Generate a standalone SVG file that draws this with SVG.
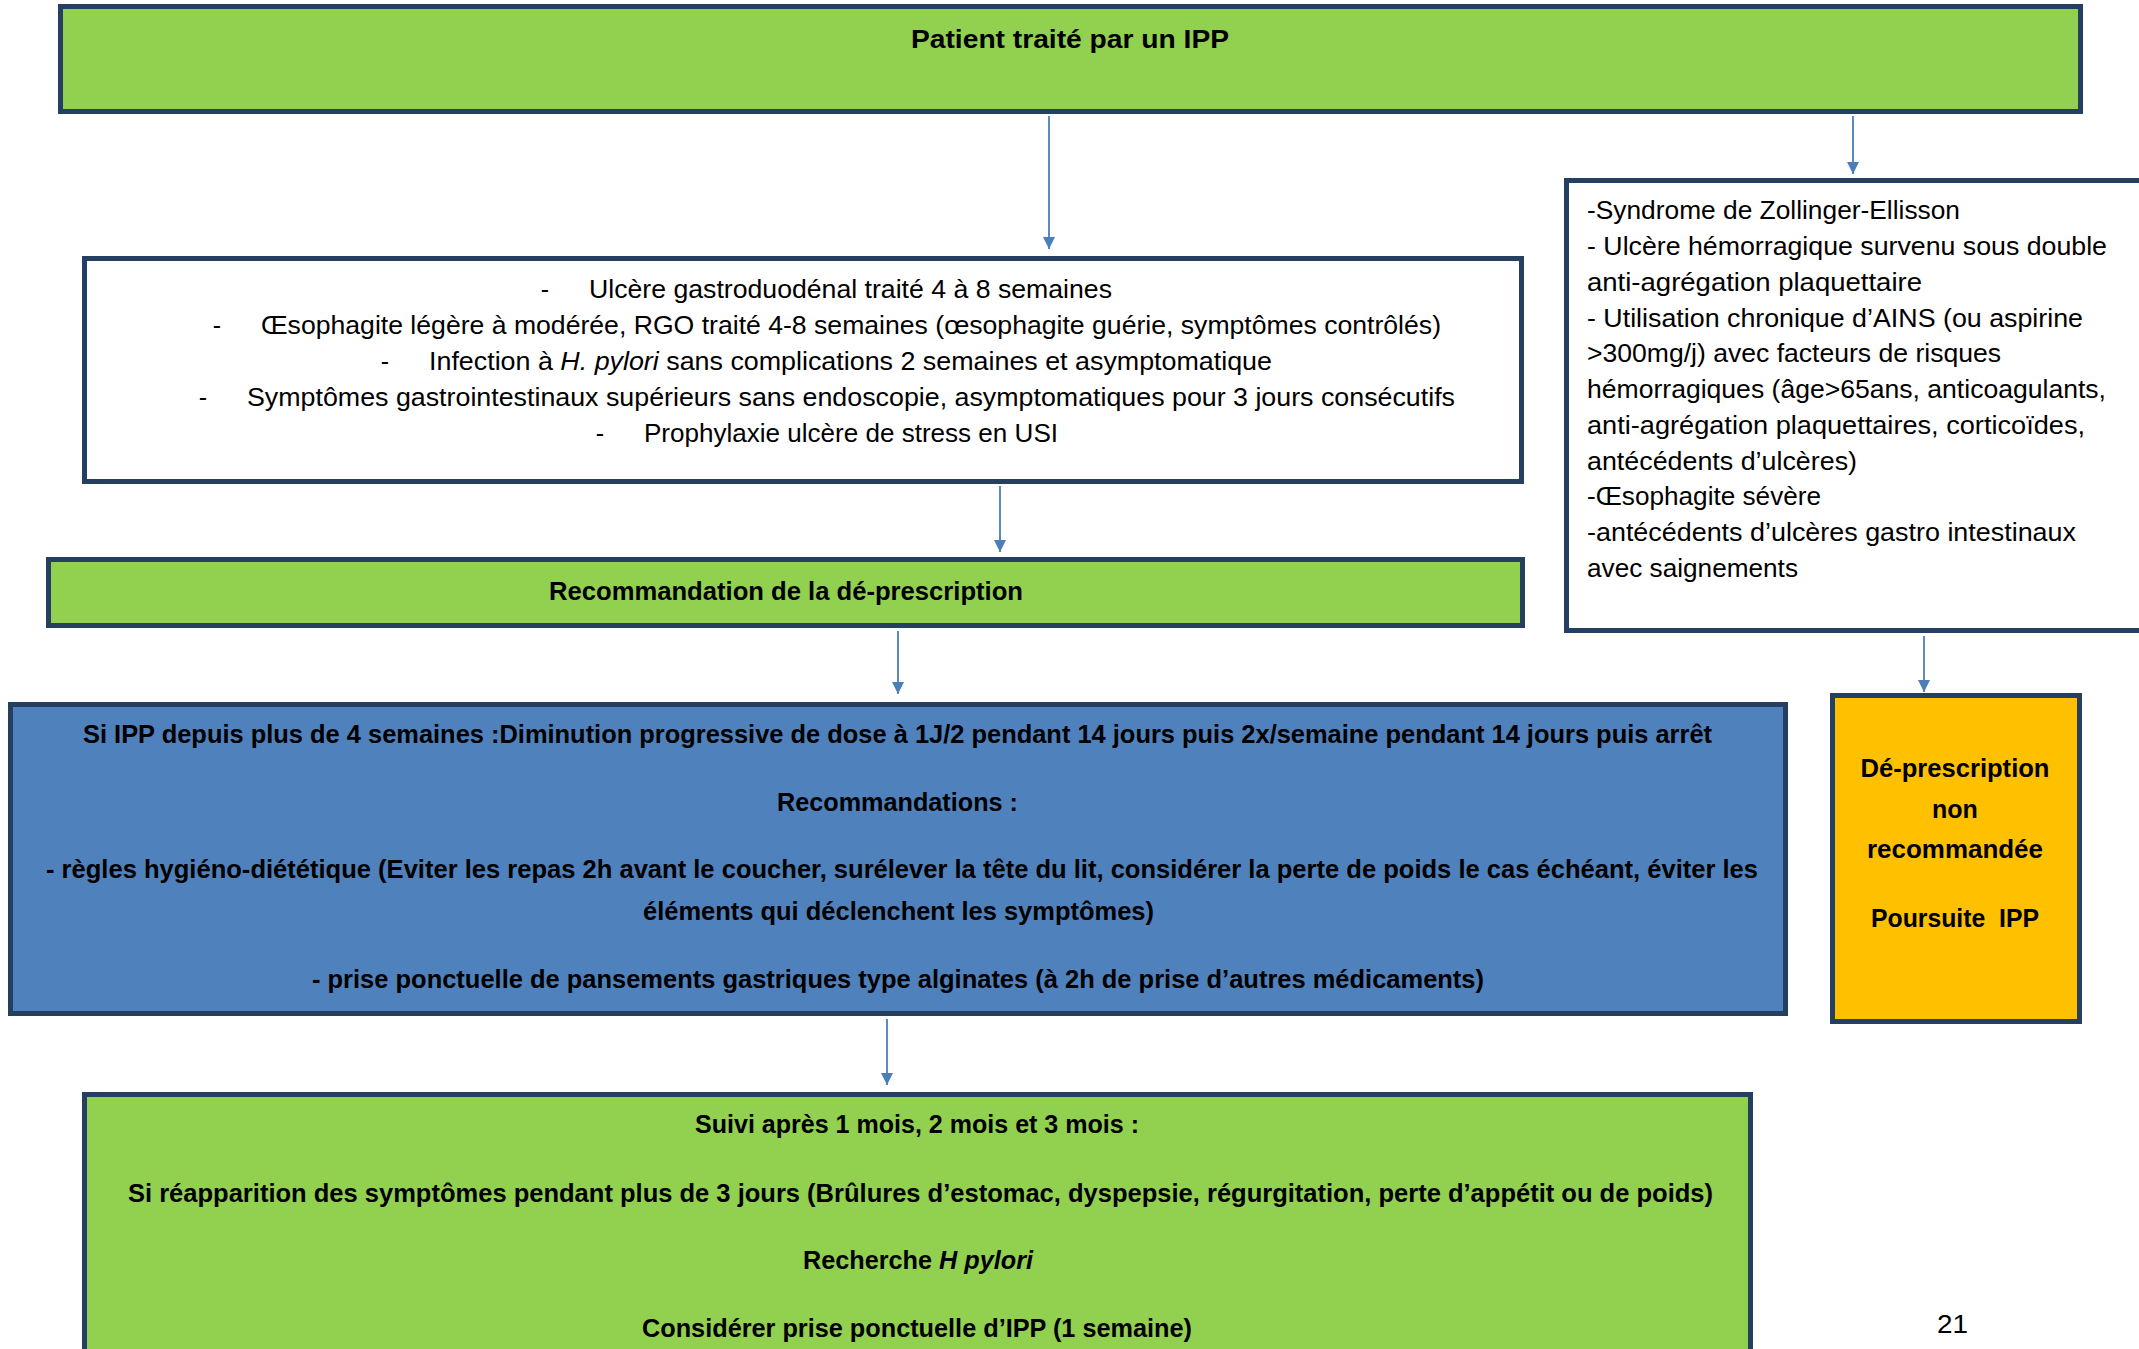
<svg xmlns="http://www.w3.org/2000/svg" width="2139" height="1349" viewBox="0 0 2139 1349">
<style>
.box{stroke:#243F60;stroke-width:5}
.green{fill:#92D050}
.white{fill:#FFFFFF}
.blue{fill:#4F81BD}
.orange{fill:#FFC000}
text{font-family:"Liberation Sans",Arial,sans-serif;font-size:25px;fill:#000}
.b{font-weight:bold}
.c{text-anchor:middle}
.conn{stroke:#4A7EBB;stroke-width:1.8;fill:none}
</style>
<defs>
<marker id="ah" viewBox="0 0 10 10" refX="10" refY="5" markerUnits="userSpaceOnUse" markerWidth="16" markerHeight="12" orient="auto">
<path d="M0,0 L10,5 L0,10 z" fill="#4A7EBB"/>
</marker>
</defs>
<rect width="2139" height="1349" fill="#FFFFFF"/>

<g id="connectors">
<path class="conn" d="M1049,116 V249" marker-end="url(#ah)"/>
<path class="conn" d="M1853,116 V174" marker-end="url(#ah)"/>
<path class="conn" d="M1000,486 V552" marker-end="url(#ah)"/>
<path class="conn" d="M898,631 V694" marker-end="url(#ah)"/>
<path class="conn" d="M1924,636 V692" marker-end="url(#ah)"/>
<path class="conn" d="M887,1019 V1085" marker-end="url(#ah)"/>
</g>

<g id="node-patient">
<rect class="box green" x="60.5" y="6.5" width="2020" height="105"/>
<text class="b" x="911" y="48" textLength="318" lengthAdjust="spacingAndGlyphs">Patient traité par un IPP</text>
</g>

<g id="node-criteres">
<rect class="box white" x="84.5" y="258.5" width="1437" height="223"/>
<text class="c" x="545" y="298">-</text>
<text x="589" y="298" textLength="523" lengthAdjust="spacingAndGlyphs">Ulcère gastroduodénal traité 4 à 8 semaines</text>
<text class="c" x="217" y="334">-</text>
<text x="261" y="334" textLength="1180" lengthAdjust="spacingAndGlyphs">Œsophagite légère à modérée, RGO traité 4-8 semaines (œsophagite guérie, symptômes contrôlés)</text>
<text class="c" x="385" y="370">-</text>
<text x="429" y="370" textLength="843" lengthAdjust="spacingAndGlyphs">Infection à <tspan font-style="italic">H. pylori</tspan> sans complications 2 semaines et asymptomatique</text>
<text class="c" x="203" y="406">-</text>
<text x="247" y="406" textLength="1208" lengthAdjust="spacingAndGlyphs">Symptômes gastrointestinaux supérieurs sans endoscopie, asymptomatiques pour 3 jours consécutifs</text>
<text class="c" x="600" y="442">-</text>
<text x="644" y="442" textLength="414" lengthAdjust="spacingAndGlyphs">Prophylaxie ulcère de stress en USI</text>
</g>

<g id="node-exceptions">
<rect class="box white" x="1566.5" y="180.5" width="580" height="450"/>
<text x="1587" y="219" textLength="373" lengthAdjust="spacingAndGlyphs">-Syndrome de Zollinger-Ellisson</text>
<text x="1587" y="255" textLength="520" lengthAdjust="spacingAndGlyphs">- Ulcère hémorragique survenu sous double</text>
<text x="1587" y="291" textLength="335" lengthAdjust="spacingAndGlyphs">anti-agrégation plaquettaire</text>
<text x="1587" y="327" textLength="496" lengthAdjust="spacingAndGlyphs">- Utilisation chronique d’AINS (ou aspirine</text>
<text x="1587" y="362" textLength="414" lengthAdjust="spacingAndGlyphs">&gt;300mg/j) avec facteurs de risques</text>
<text x="1587" y="398" textLength="519" lengthAdjust="spacingAndGlyphs">hémorragiques (âge&gt;65ans, anticoagulants,</text>
<text x="1587" y="434" textLength="498" lengthAdjust="spacingAndGlyphs">anti-agrégation plaquettaires, corticoïdes,</text>
<text x="1587" y="470" textLength="270" lengthAdjust="spacingAndGlyphs">antécédents d’ulcères)</text>
<text x="1587" y="505" textLength="234" lengthAdjust="spacingAndGlyphs">-Œsophagite sévère</text>
<text x="1587" y="541" textLength="489" lengthAdjust="spacingAndGlyphs">-antécédents d’ulcères gastro intestinaux</text>
<text x="1587" y="577" textLength="211" lengthAdjust="spacingAndGlyphs">avec saignements</text>
</g>

<g id="node-recommandation">
<rect class="box green" x="48.5" y="559.5" width="1474" height="66"/>
<text class="b" x="549" y="600" textLength="474" lengthAdjust="spacingAndGlyphs">Recommandation de la dé-prescription</text>
</g>

<g id="node-diminution">
<rect class="box blue" x="10.5" y="704.5" width="1775" height="309"/>
<text class="b" x="83" y="743" textLength="1629" lengthAdjust="spacingAndGlyphs">Si IPP depuis plus de 4 semaines :Diminution progressive de dose à 1J/2 pendant 14 jours puis 2x/semaine pendant 14 jours puis arrêt</text>
<text class="b" x="777" y="811" textLength="241" lengthAdjust="spacingAndGlyphs">Recommandations :</text>
<text class="b" x="46" y="878" textLength="1712" lengthAdjust="spacingAndGlyphs">- règles hygiéno-diététique (Eviter les repas 2h avant le coucher, surélever la tête du lit, considérer la perte de poids le cas échéant, éviter les</text>
<text class="b" x="643" y="920" textLength="511" lengthAdjust="spacingAndGlyphs">éléments qui déclenchent les symptômes)</text>
<text class="b" x="312" y="988" textLength="1172" lengthAdjust="spacingAndGlyphs">- prise ponctuelle de pansements gastriques type alginates (à 2h de prise d’autres médicaments)</text>
</g>

<g id="node-nonrecommandee">
<rect class="box orange" x="1832.5" y="695.5" width="247" height="326"/>
<text class="b c" x="1955" y="777" textLength="189" lengthAdjust="spacingAndGlyphs">Dé-prescription</text>
<text class="b c" x="1955" y="818">non</text>
<text class="b c" x="1955" y="858" textLength="176" lengthAdjust="spacingAndGlyphs">recommandée</text>
<text class="b c" x="1955" y="927" textLength="168" lengthAdjust="spacingAndGlyphs">Poursuite&#160; IPP</text>
</g>

<g id="node-suivi">
<rect class="box green" x="84.5" y="1094.5" width="1666" height="280"/>
<text class="b" x="695" y="1133" textLength="444" lengthAdjust="spacingAndGlyphs">Suivi après 1 mois, 2 mois et 3 mois :</text>
<text class="b" x="128" y="1202" textLength="1585" lengthAdjust="spacingAndGlyphs">Si réapparition des symptômes pendant plus de 3 jours (Brûlures d’estomac, dyspepsie, régurgitation, perte d’appétit ou de poids)</text>
<text class="b" x="803" y="1269" textLength="230" lengthAdjust="spacingAndGlyphs">Recherche <tspan font-style="italic">H pylori</tspan></text>
<text class="b" x="642" y="1337" textLength="550" lengthAdjust="spacingAndGlyphs">Considérer prise ponctuelle d’IPP (1 semaine)</text>
</g>

<text x="1937" y="1333" textLength="31" lengthAdjust="spacingAndGlyphs">21</text>
</svg>
